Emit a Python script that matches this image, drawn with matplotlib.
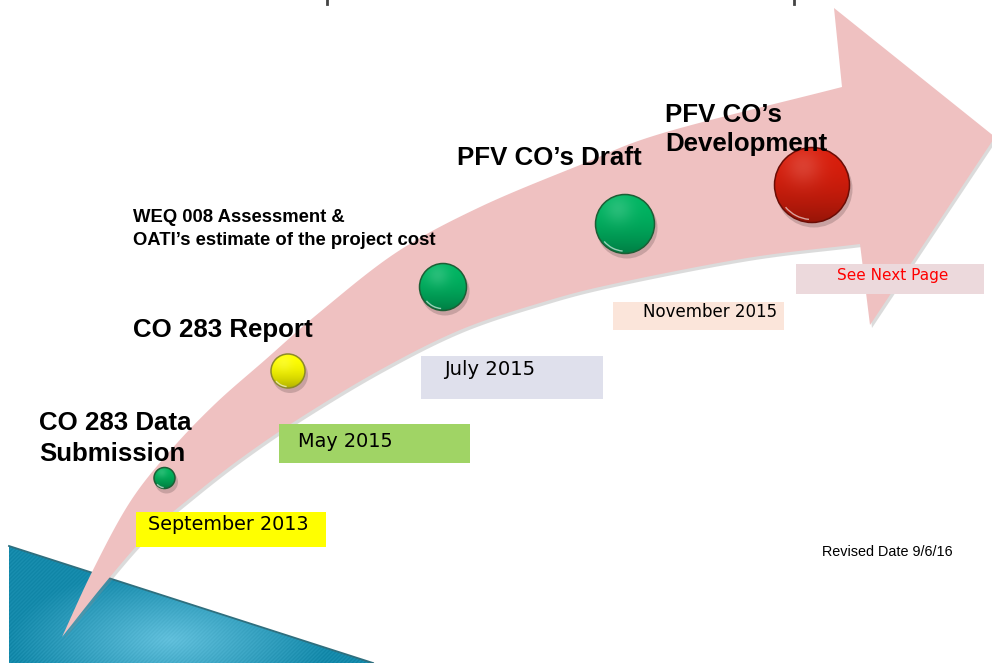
import numpy as np
import matplotlib
matplotlib.use("Agg")
import matplotlib.pyplot as plt
from matplotlib.patches import Polygon, Circle, Rectangle, Arc

# milestones along the arrow
milestone_x = [164.5, 288, 443, 625, 812]
milestone_y = [478, 371, 287, 224, 185]
milestone_r = [10.5, 17, 23.5, 29.5, 37.5]
milestone_color = ["#00b35c", "#ffff00", "#00b562", "#00b562", "#d91e0c"]
milestone_edge = ["#1d5e35", "#8c8a2a", "#1d5e35", "#1d5e35", "#6b0d06"]

# bold titles, one entry per line: (text, left x, baseline y, size)
title_lines = [
    ("CO 283 Data", 39, 430, 18.6),
    ("Submission", 39, 461, 18.6),
    ("CO 283 Report", 133, 337, 18.6),
    ("WEQ 008 Assessment &", 133, 222, 13.3),
    ("OATI\u2019s estimate of the project cost", 133, 245, 13.3),
    ("PFV CO\u2019s Draft", 457, 165, 18.6),
    ("PFV CO\u2019s", 665, 122, 18.6),
    ("Development", 665, 151, 18.6),
]

# date boxes
date_text = ["September 2013", "May 2015", "July 2015", "November 2015", "See Next Page"]
date_text_color = ["black", "black", "black", "black", "#ff0000"]
date_size = [13.8, 13.9, 14.1, 12.0, 11.0]
date_text_x = [148, 298, 444, 643, 837]
date_text_base = [530, 447, 375, 317, 280]
date_box = [(136, 512, 326, 547), (279, 424, 470, 463), (421, 356, 603, 399),
            (613, 302, 784, 330), (796, 264, 984, 294)]
date_box_color = ["#ffff00", "#a0d465", "#dfe0ec", "#fbe5da", "#ecd9dc"]

# outline of the curved arrow (pixels of the slide)
arrow_upper = [(62, 637), (93, 570), (130, 502), (170, 451), (215, 404), (265, 360),
               (320, 312), (397, 252), (480, 207), (580, 165), (663, 133), (842, 87)]
arrow_head = [(834, 8), (995, 137), (870, 325), (860, 244)]
arrow_lower = [(62, 637), (105, 583), (147, 535), (190, 498), (240, 459), (300, 418),
               (380, 370), (460, 330), (540, 303), (613, 284), (747, 258), (860, 244)]

# blue corner decoration
corner = [(9, 546), (373, 663), (9, 663)]
title_stubs_x = [327, 794]


def catmull(pts, n=16):
    p = np.asarray(pts, float)
    p = np.vstack([2 * p[0] - p[1], p, 2 * p[-1] - p[-2]])
    out = []
    t = np.linspace(0, 1, n, endpoint=False)[:, None]
    for i in range(1, len(p) - 2):
        p0, p1, p2, p3 = p[i - 1], p[i], p[i + 1], p[i + 2]
        out.append(0.5 * (2 * p1 + (-p0 + p2) * t + (2 * p0 - 5 * p1 + 4 * p2 - p3) * t ** 2
                          + (-p0 + 3 * p1 - 3 * p2 + p3) * t ** 3))
    out.append(p[-2][None])
    return np.vstack(out)


def shaded_disc(ax, cx, cy, r, base, edge):
    ax.add_patch(Circle((cx + 2, cy + 4), r + 1, color="black", alpha=0.16, lw=0, zorder=4))
    yy, xx = np.mgrid[-1:1:96j, -1:1:96j]
    rgb = np.array(matplotlib.colors.to_rgb(base))
    t = (yy + 1) / 2
    img = rgb[None, None, :] * (1 - 0.3 * t[..., None] ** 2)
    hl = 0.15 * np.exp(-((xx + 0.25) ** 2 + (yy + 0.5) ** 2) / 0.25)
    img = np.clip(img + hl[..., None] * (1 - img), 0, 1)
    clip = Circle((cx, cy), r, transform=ax.transData)
    im = ax.imshow(img, extent=(cx - r, cx + r, cy + r, cy - r), zorder=5, interpolation="bilinear")
    im.set_clip_path(clip)
    ax.add_patch(Circle((cx, cy), r, fc="none", ec=edge, lw=1.1, zorder=6))
    ax.add_patch(Arc((cx, cy), 1.84 * r, 1.84 * r, theta1=95, theta2=140,
                     color="white", lw=1.0, alpha=0.6, zorder=6))


fig = plt.figure(figsize=(9.92, 6.63), dpi=100)
ax = fig.add_axes([0, 0, 1, 1])
ax.set_xlim(0, 992)
ax.set_ylim(663, 0)
ax.axis("off")

# blue corner with a soft gradient
gy, gx = np.mgrid[540:663:124j, 0:380:381j]
d = np.sqrt(((gx - 170) / 160) ** 2 + ((gy - 640) / 70) ** 2)
light = np.clip(1 - d, 0, 1)
stripes = 0.025 * np.sin((gx + gy) * 1.6)
c0 = np.array([0.08, 0.54, 0.67])
c1 = np.array([0.38, 0.75, 0.86])
blue = c0 + (c1 - c0) * light[..., None] + stripes[..., None]
cpoly = Polygon(corner, closed=True, transform=ax.transData)
bim = ax.imshow(np.clip(blue, 0, 1), extent=(0, 380, 663, 540), zorder=1, interpolation="bilinear")
bim.set_clip_path(cpoly)
ax.plot([corner[0][0], corner[1][0]], [corner[0][1], corner[1][1]], color="#2f6f7e", lw=1.3, zorder=1.5)

# arrow
outline = np.vstack([catmull(arrow_upper), np.array(arrow_head),
                     catmull(arrow_lower)[::-1]])
ax.add_patch(Polygon(outline + [2, 3], closed=True, fc="#8a8a8a", ec="none", alpha=0.3, zorder=2))
ax.add_patch(Polygon(outline, closed=True, fc="#efc1c1", ec="none", zorder=3))

# leftovers of the cropped slide title
for sx in title_stubs_x:
    ax.plot([sx, sx], [0, 4], color="#444444", lw=2.0, zorder=3)

for cx, cy, r, c, e in zip(milestone_x, milestone_y, milestone_r, milestone_color, milestone_edge):
    shaded_disc(ax, cx, cy, r, c, e)

for (x0, y0, x1, y1), col in zip(date_box, date_box_color):
    ax.add_patch(Rectangle((x0, y0), x1 - x0, y1 - y0, fc=col, ec="none", zorder=7))

for txt, x, y, s, col in zip(date_text, date_text_x, date_text_base, date_size, date_text_color):
    ax.text(x, y, txt, fontsize=s, color=col, family="DejaVu Sans",
            ha="left", va="baseline", zorder=8)

for txt, x, y, s in title_lines:
    ax.text(x, y, txt, fontsize=s, fontweight="bold", family="Liberation Sans",
            color="black", ha="left", va="baseline", zorder=9)

ax.text(822, 556, "Revised Date 9/6/16", fontsize=10.4, family="Liberation Sans",
        color="black", ha="left", va="baseline", zorder=9)

fig.savefig("out.png", dpi=100)
